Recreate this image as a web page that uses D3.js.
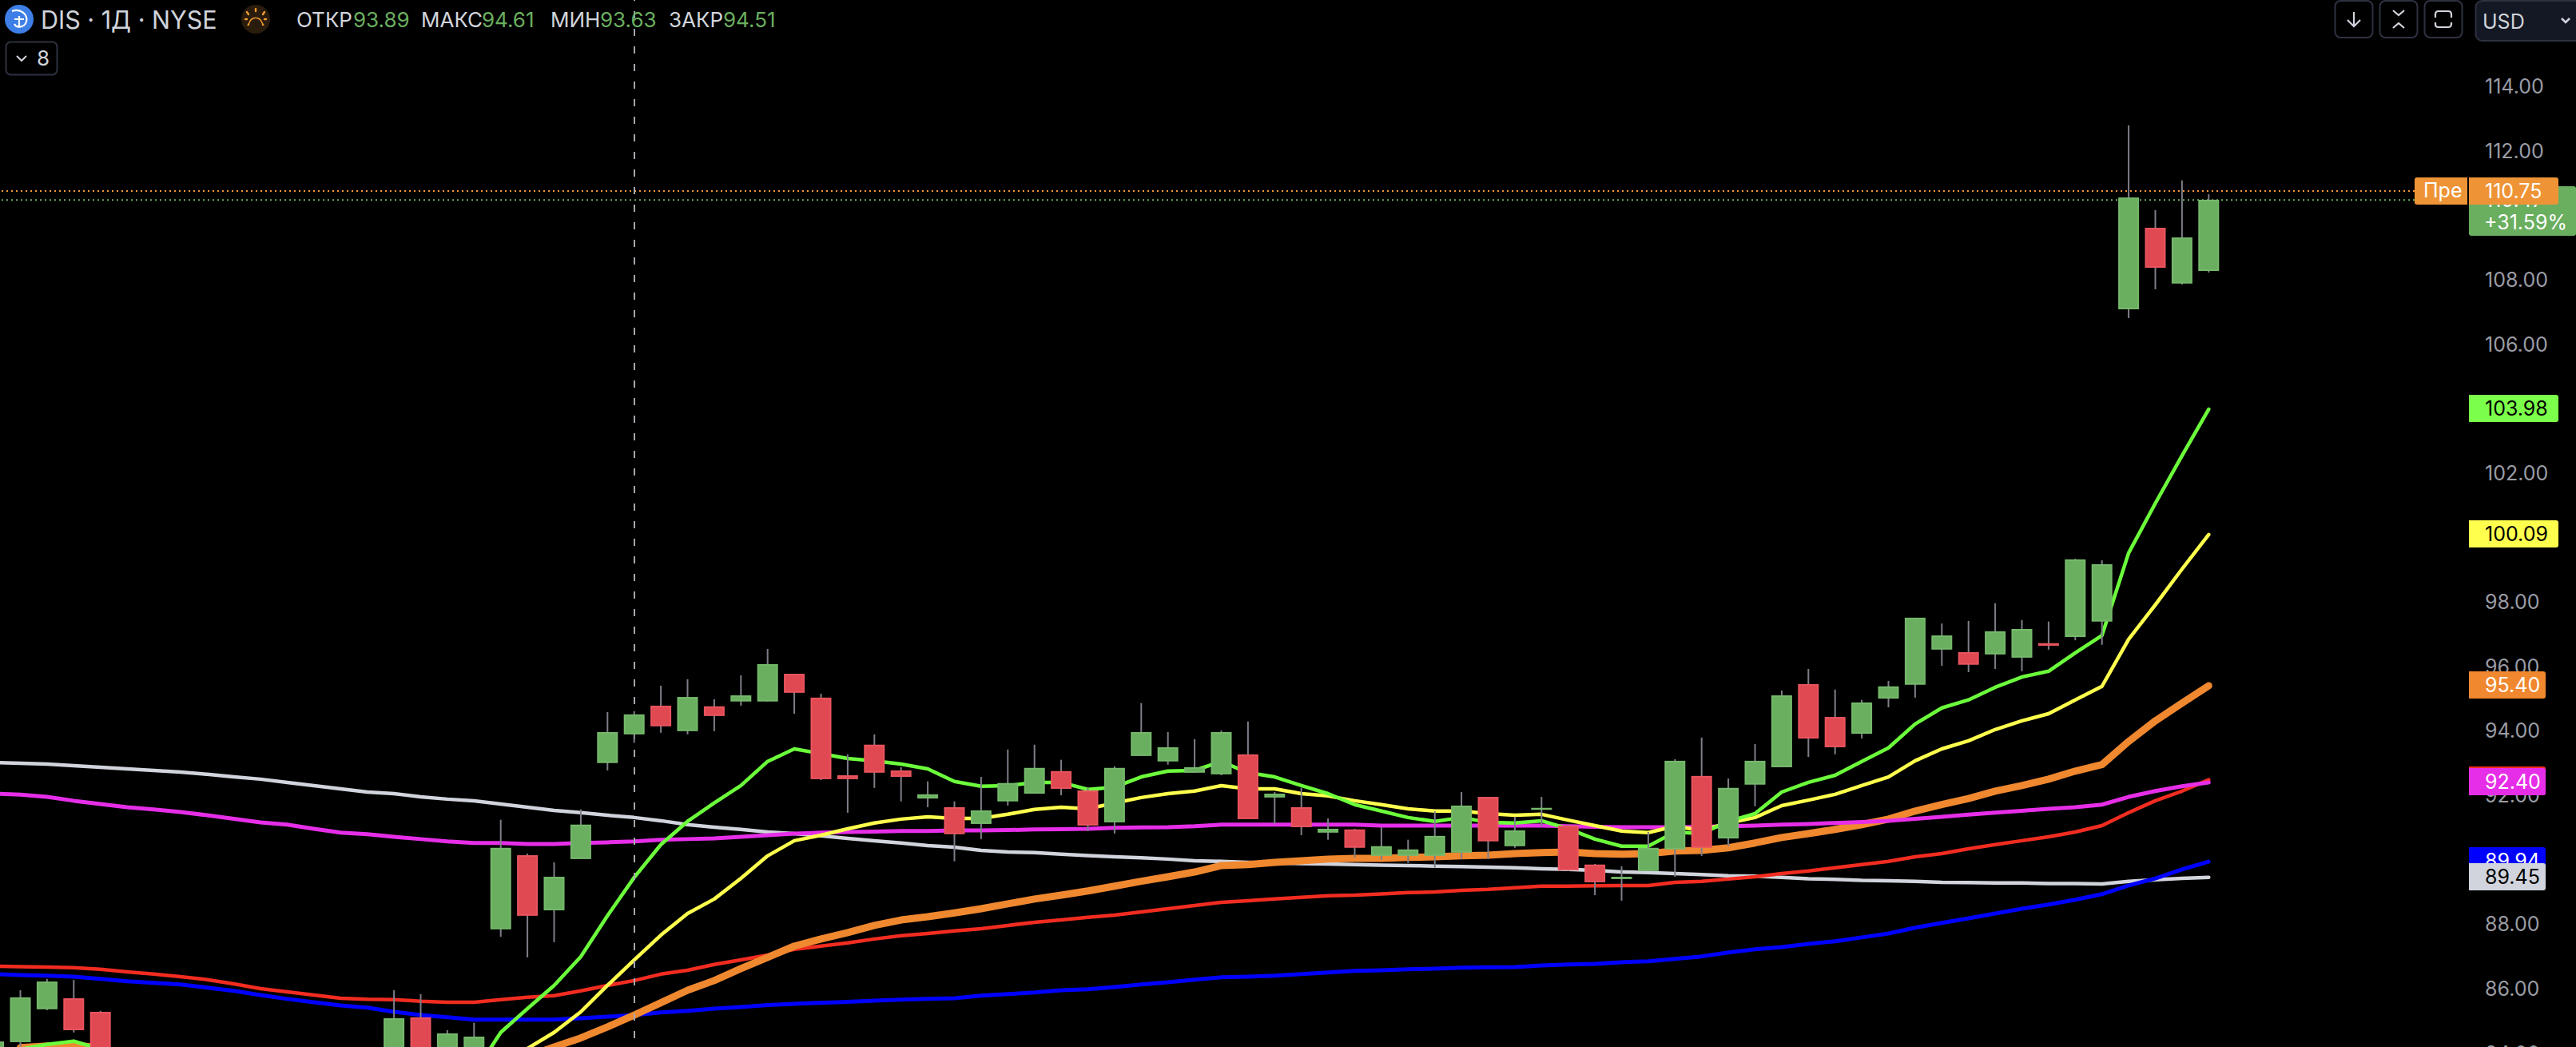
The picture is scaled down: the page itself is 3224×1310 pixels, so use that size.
<!DOCTYPE html>
<html><head><meta charset="utf-8">
<style>html,body{margin:0;padding:0;background:#000;overflow:hidden}svg{display:block;font-family:Inter,Roboto,sans-serif}</style>
<script src="https://cdn.jsdelivr.net/npm/d3@7/dist/d3.min.js"></script>
</head><body><svg id="c" width="3224" height="1310"></svg>
<script>
const bars = d3.range(-1, 83);
const N10 = [null,null,null,null,null,null,null,null,null,null];
const opens = [83.60,84.34,85.36,85.70,85.28,...N10,83.90,85.11,83.70,83.60,87.84,90.14,88.43,90.02,93.00,93.89,94.78,93.99,94.76,94.91,94.91,95.77,95.03,92.62,93.57,92.77,91.90,91.63,91.11,91.81,92.05,92.75,92.15,91.16,93.22,93.05,92.70,92.65,93.27,91.93,91.63,90.84,90.94,90.12,90.12,90.12,90.22,91.95,90.42,91.56,91.06,89.85,89.40,89.65,90.32,92.60,90.66,92.33,92.87,95.45,94.43,93.91,95.00,95.43,96.52,96.44,96.37,96.27,96.72,96.91,97.39,107.08,109.61,107.88,108.27];
const highs = [84.36,85.95,86.30,86.27,85.31,...N10,85.95,85.83,84.71,84.94,91.24,90.19,89.92,91.56,94.58,94.61,95.40,95.60,94.98,95.72,96.54,95.77,95.15,93.27,93.89,92.87,92.43,91.81,92.57,93.42,93.57,93.10,92.23,92.90,94.86,93.96,93.74,94.01,94.29,92.10,92.23,91.28,90.96,91.01,90.62,91.51,92.10,91.95,91.33,91.95,91.09,89.87,89.80,90.86,93.12,93.79,92.52,93.59,95.25,95.92,95.28,94.96,95.55,97.51,97.33,97.41,97.96,97.44,97.39,99.34,99.29,112.79,110.16,111.08,110.65];
const lows = [83.00,84.20,85.33,84.64,83.50,...N10,83.50,83.30,83.50,83.40,87.61,86.97,87.44,90.02,92.77,93.63,93.94,93.89,93.99,94.78,94.91,94.53,92.47,91.46,92.23,91.81,91.63,89.95,90.64,91.68,92.05,92.00,90.89,90.81,93.22,92.95,92.70,92.62,91.26,91.11,90.76,90.62,90.07,90.00,89.90,89.75,90.02,90.02,90.37,91.04,89.65,88.90,88.73,89.65,89.47,90.12,90.42,91.66,92.87,93.19,93.27,93.76,94.73,95.03,96.02,95.82,95.92,95.85,96.52,96.81,96.67,106.81,107.70,107.85,108.22];
const closes = [84.36,85.73,86.22,84.71,83.90,...N10,85.08,83.60,84.61,84.51,90.37,88.26,89.47,91.09,93.96,94.51,94.14,95.05,94.46,95.10,96.07,95.18,92.50,92.50,92.70,92.57,92.03,90.79,91.53,92.38,92.85,92.20,91.06,92.85,93.96,93.49,92.87,93.96,91.26,92.05,91.01,90.96,90.37,90.42,90.32,90.74,91.68,90.57,90.91,91.61,89.67,89.30,89.47,90.37,93.07,90.37,92.23,93.07,95.10,93.76,93.49,94.88,95.38,97.51,96.96,96.05,97.09,97.16,96.64,99.32,99.17,110.55,108.37,109.31,110.48];

const N13 = [null,null,null,null,null,null,null,null,null,null,null,null,null];
const gray = [93.02,92.99,92.97,92.92,92.87,92.82,92.77,92.72,92.65,92.57,92.50,92.40,92.30,92.20,92.10,92.05,91.95,91.88,91.83,91.73,91.63,91.53,91.46,91.38,91.31,91.21,91.09,91.01,90.94,90.86,90.81,90.74,90.66,90.59,90.52,90.44,90.39,90.29,90.24,90.22,90.17,90.13,90.09,90.06,90.02,89.97,89.95,89.92,89.90,89.88,89.87,89.85,89.83,89.82,89.80,89.79,89.77,89.75,89.72,89.70,89.67,89.62,89.60,89.57,89.54,89.50,89.49,89.45,89.41,89.39,89.36,89.35,89.33,89.30,89.29,89.28,89.28,89.26,89.26,89.25,89.33,89.38,89.42,89.45];
const magenta = [92.05,92.02,91.95,91.83,91.73,91.63,91.56,91.48,91.38,91.27,91.16,91.09,90.96,90.84,90.79,90.71,90.64,90.57,90.52,90.52,90.49,90.49,90.52,90.54,90.57,90.62,90.64,90.66,90.71,90.76,90.81,90.84,90.86,90.87,90.89,90.89,90.91,90.91,90.92,90.94,90.95,90.96,90.99,91.00,91.01,91.04,91.09,91.09,91.09,91.09,91.09,91.09,91.06,91.06,91.06,91.06,91.06,91.06,91.06,91.04,91.02,91.01,91.01,91.01,91.02,91.04,91.06,91.09,91.11,91.14,91.17,91.21,91.27,91.33,91.40,91.46,91.52,91.58,91.63,91.71,91.95,92.13,92.28,92.40];
const red = [86.70,86.68,86.67,86.65,86.60,86.52,86.45,86.37,86.28,86.15,86.00,85.90,85.80,85.70,85.67,85.66,85.61,85.58,85.58,85.66,85.73,85.78,85.93,86.10,86.25,86.45,86.57,86.75,86.89,87.04,87.22,87.32,87.42,87.54,87.64,87.71,87.79,87.86,87.96,88.06,88.13,88.21,88.28,88.38,88.48,88.58,88.68,88.73,88.78,88.83,88.88,88.90,88.94,88.98,89.00,89.05,89.08,89.13,89.18,89.18,89.19,89.20,89.20,89.30,89.33,89.40,89.47,89.57,89.65,89.75,89.85,89.95,90.09,90.19,90.34,90.47,90.59,90.71,90.86,91.06,91.46,91.83,92.13,92.48];
const blue = [86.45,86.42,86.40,86.37,86.30,86.23,86.18,86.13,86.03,85.93,85.80,85.68,85.58,85.48,85.41,85.28,85.18,85.11,85.04,85.04,85.04,85.04,85.08,85.13,85.18,85.26,85.31,85.38,85.43,85.49,85.53,85.56,85.59,85.63,85.66,85.68,85.70,85.78,85.83,85.88,85.95,85.98,86.05,86.13,86.20,86.28,86.35,86.37,86.40,86.45,86.50,86.55,86.57,86.60,86.62,86.65,86.66,86.67,86.72,86.75,86.77,86.82,86.85,86.92,87.00,87.12,87.22,87.29,87.39,87.47,87.59,87.71,87.89,88.04,88.18,88.33,88.48,88.61,88.76,88.93,89.20,89.42,89.70,89.94];
const orange = [null,84.17,84.22,84.24,84.17,...N13,null,null,83.89,84.19,84.47,84.81,85.18,85.56,85.95,86.25,86.62,86.97,87.32,87.54,87.74,87.96,88.13,88.23,88.35,88.48,88.63,88.78,88.90,89.03,89.18,89.33,89.47,89.62,89.82,89.85,89.92,89.97,90.02,90.04,90.04,90.07,90.09,90.12,90.14,90.19,90.22,90.24,90.19,90.17,90.19,90.27,90.29,90.37,90.52,90.69,90.81,90.94,91.09,91.26,91.51,91.71,91.90,92.13,92.30,92.50,92.75,92.95,93.67,94.31,94.86,95.40];
const yellow = [null,null,null,null,null,...N13,null,null,84.14,84.64,85.28,86.10,86.89,87.66,88.33,88.78,89.42,90.12,90.59,90.76,90.96,91.14,91.26,91.33,91.28,91.28,91.41,91.56,91.63,91.58,91.76,91.93,92.05,92.13,92.30,92.20,92.20,92.05,91.98,91.83,91.71,91.58,91.51,91.51,91.43,91.38,91.41,91.23,91.06,90.89,90.84,91.04,90.91,91.14,91.31,91.68,91.85,92.03,92.30,92.57,93.07,93.44,93.69,94.04,94.31,94.53,94.96,95.38,96.84,97.91,99.02,100.09];
const green = [null,84.12,84.27,84.37,84.12,...N13,83.37,84.64,85.38,86.10,86.99,88.26,89.45,90.47,91.19,91.76,92.30,93.05,93.44,93.29,93.14,93.07,92.97,92.82,92.43,92.28,92.30,92.40,92.40,92.18,92.25,92.57,92.75,92.77,93.05,92.70,92.57,92.30,92.05,91.71,91.51,91.31,91.19,91.31,91.16,91.14,91.21,90.96,90.64,90.42,90.42,90.86,90.81,91.19,91.43,92.10,92.40,92.62,93.05,93.47,94.21,94.71,94.96,95.35,95.67,95.85,96.42,96.96,99.52,101.06,102.54,103.98];

const tickVals = [84,86,88,90,92,94,96,98,100,102,104,106,108,110,112,114];
const headerPairs = [["ОТКР","93.89",371,443],["МАКС","94.61",527,604],["МИН","93.63",689,752],["ЗАКР","94.51",837,906]];

const x = d3.scaleLinear().domain([0,82]).range([25.5,2764.3]);
const y = d3.scaleLinear().domain([84,114]).range([1317.6,108]);
const svg = d3.select("#c");
const UP="#6aae5f",UPB="#75b96b",DN="#e04852",DNB="#e9545e",WICK="#7d7f89",TXT="#d1d4dc",TICK="#9a9ca5";
const FS=25;

svg.append("rect").attr("width",3224).attr("height",1310).attr("fill","#000");

[[110.75,"#f2953a"],[110.47,"#6ab060"]].forEach(([v,c])=>{
  svg.append("line").attr("x1",2).attr("x2",3022).attr("y1",y(v)).attr("y2",y(v))
    .attr("stroke",c).attr("stroke-width",2).attr("stroke-dasharray","2 4");
});

const plot = svg.append("g");
const line = d3.line().defined(d=>d[1]!=null).x(d=>x(d[0])).y(d=>y(d[1]));
[[gray,"#d1d4dc",4.5],[blue,"#0000ff",5],[red,"#f22c20",4.5],[orange,"#f0882f",9],[magenta,"#e62ee8",5],[yellow,"#ffff4d",4.5],[green,"#6cff3c",4.5]].forEach(([s,c,w])=>{
  plot.append("path").datum(bars.map((b,i)=>[b,s[i]])).attr("d",line).attr("fill","none")
    .attr("stroke",c).attr("stroke-width",w).attr("stroke-linecap","round").attr("stroke-linejoin","round");
});

svg.append("line").attr("x1",794).attr("x2",794).attr("y1",0).attr("y2",1310)
  .attr("stroke","#a5a7ae").attr("stroke-width",2).attr("stroke-dasharray","9 13").attr("stroke-dashoffset",8);

const cs = bars.map((b,i)=>({b,o:opens[i],h:highs[i],l:lows[i],c:closes[i]})).filter(d=>d.o!=null);
const g = svg.append("g");
g.selectAll("line").data(cs).join("line")
  .attr("x1",d=>x(d.b)).attr("x2",d=>x(d.b)).attr("y1",d=>y(d.h)).attr("y2",d=>y(d.l))
  .attr("stroke",WICK).attr("stroke-width",2);
g.selectAll("rect").data(cs).join("rect")
  .attr("x",d=>x(d.b)-12).attr("width",24)
  .attr("y",d=>y(Math.max(d.o,d.c))+1)
  .attr("height",d=>Math.max(0.5,Math.abs(y(d.o)-y(d.c))-2))
  .attr("fill",d=>d.c>=d.o?UP:DN).attr("stroke",d=>d.c>=d.o?UPB:DNB).attr("stroke-width",2);

const axis = d3.axisRight(y).tickValues(tickVals).tickFormat(d3.format(".2f")).tickSize(0).tickPadding(0);
const ag = svg.append("g").attr("transform","translate(3110,0)").call(axis);
ag.select(".domain").remove();
ag.selectAll("text").attr("font-size",FS).attr("font-family","Inter, sans-serif").attr("fill",TICK).attr("dy","0.34em").attr("x",0);

function tag(x0,y0,w,h,fill,text,tc,r){
  svg.append("path").attr("fill",fill)
    .attr("d",`M${x0},${y0}H${x0+w-r}Q${x0+w},${y0} ${x0+w},${y0+r}V${y0+h-r}Q${x0+w},${y0+h} ${x0+w-r},${y0+h}H${x0}Z`);
  if(text) svg.append("text").attr("x",3110).attr("y",y0+h/2).attr("dy","0.36em").attr("font-size",FS).attr("fill",tc).text(text);
}
tag(3090,1060,96,34,"#0000ff",null,null,3);
svg.append("text").attr("x",3110).attr("y",1077).attr("dy","0.36em").attr("font-size",FS).attr("fill","#fff").text("89.94");
tag(3090,1080,96,34,"#d1d4dc","89.45","#000",3);
tag(3090,959,96,36,"#f22c20",null,null,3);
tag(3090,961,96,34,"#e62ee8","92.40","#fff",3);
tag(3090,840,96,34,"#f0882f","95.40","#fff",3);
tag(3090,651,112,34,"#ffff4d","100.09","#000",3);
tag(3090,494,112,34,"#7cff4a","103.98","#000",3);

svg.append("rect").attr("x",3090).attr("y",233).attr("width",134).attr("height",62).attr("rx",3).attr("fill","#6aae5f");
svg.append("text").attr("x",3110).attr("y",250).attr("dy","0.36em").attr("font-size",FS).attr("fill","#fff").text("110.47");
svg.append("text").attr("x",3109).attr("y",278).attr("dy","0.36em").attr("font-size",FS).attr("fill","#fff").text("+31.59%");
svg.append("path").attr("fill","#ee9436").attr("d","M3025,222H3088V256H3025Q3022,256 3022,253V225Q3022,222 3025,222Z");
svg.append("text").attr("x",3033).attr("y",238).attr("dy","0.36em").attr("font-size",FS).attr("fill","#fff").text("Пре");
tag(3090,222,112,34,"#ee9436","110.75","#fff",3);

const hy = 25;
svg.append("circle").attr("cx",24).attr("cy",24).attr("r",18).attr("fill","#3d7fe6");
svg.append("path").attr("fill","none").attr("stroke","#fff").attr("stroke-width",2.2)
  .attr("d","M15,14C26,10 35,18 33,27C31,34 21,36 18,30M18,24H30M24,20V34");
svg.append("text").attr("x",51).attr("y",hy).attr("dy","0.36em").attr("font-size",30.5).attr("fill",TXT).text("DIS · 1Д · NYSE");
svg.append("circle").attr("cx",320).attr("cy",24).attr("r",18).attr("fill","#2a1c0c");
svg.append("path").attr("fill","#f09a30").attr("d","M309,32L312,32A8,9 0 0 1 328,32L331,32L328,27C326,20 314,20 312,27Z");
svg.append("g").attr("stroke","#f09a30").attr("stroke-width",2.4).attr("stroke-linecap","round")
  .selectAll("line").data([[320,11,320,14],[309,15,311,18],[331,15,329,18],[307,24,309,24],[331,24,333,24]]).join("line")
  .attr("x1",d=>d[0]).attr("y1",d=>d[1]).attr("x2",d=>d[2]).attr("y2",d=>d[3]);
headerPairs.forEach(([k,v,xk,xv])=>{
  svg.append("text").attr("x",xk).attr("y",hy).attr("dy","0.36em").attr("font-size",26).attr("fill",TXT).text(k);
  svg.append("text").attr("x",xv-1).attr("y",hy).attr("dy","0.36em").attr("font-size",26).attr("fill","#6aae5f").text(v);
});

svg.append("rect").attr("x",7.5).attr("y",52.5).attr("width",64).attr("height",41).attr("rx",6).attr("fill","none").attr("stroke","#2e3240").attr("stroke-width",2);
svg.append("path").attr("fill","none").attr("stroke",TXT).attr("stroke-width",2).attr("d","M21,70L27,76L33,70");
svg.append("text").attr("x",46).attr("y",73).attr("dy","0.36em").attr("font-size",26).attr("fill",TXT).text("8");

[2922,2978,3034].forEach(bx=>{
  svg.append("rect").attr("x",bx+.5).attr("y",1).attr("width",47).attr("height",46).attr("rx",7).attr("fill","none").attr("stroke","#2e3240").attr("stroke-width",2);
});
const ic = svg.append("g").attr("fill","none").attr("stroke",TXT).attr("stroke-width",2.2);
ic.append("path").attr("d","M2946,15V33M2938,25L2946,33L2954,25");
ic.append("path").attr("d","M2995,13L3002,19L3009,13M2995,35L3002,29L3009,35");
ic.append("path").attr("d","M3048,22V18Q3048,14 3052,14H3064Q3068,14 3068,18V22M3048,28V30Q3048,34 3052,34H3064Q3068,34 3068,30V28");
svg.append("rect").attr("x",3098.5).attr("y",1).attr("width",140).attr("height",50).attr("rx",8).attr("fill","#141824").attr("stroke","#2e3240").attr("stroke-width",2);
svg.append("text").attr("x",3107).attr("y",27).attr("dy","0.36em").attr("font-size",25).attr("fill",TXT).text("USD");
svg.append("path").attr("fill","none").attr("stroke",TXT).attr("stroke-width",2.6).attr("d","M3206,23L3211,28L3216,23");
</script></body></html>
